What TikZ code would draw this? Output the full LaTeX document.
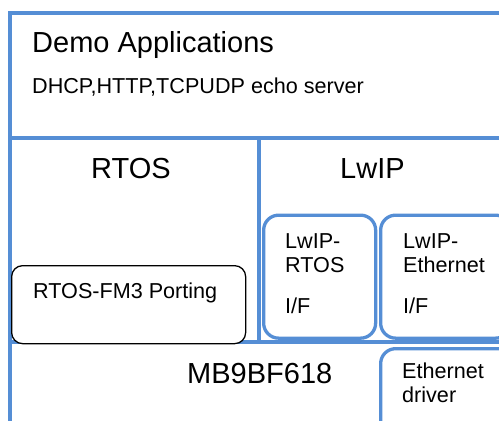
\documentclass[tikz,border=0pt]{standalone}
\usepackage{fontspec}
\setmainfont{Liberation Sans}
\definecolor{lineblue}{RGB}{85,142,213}
\begin{document}
\begin{tikzpicture}[x=1pt,y=-1pt,
  wall/.style={draw=lineblue,line width=3.3pt},
  ifbox/.style={draw=lineblue,line width=3.3pt,rounded corners=15pt,fill=white,anchor=north west,inner sep=0pt},
  portbox/.style={draw=black,line width=1.3pt,rounded corners=11pt,fill=white,anchor=north west,inner sep=0pt},
  big/.style={anchor=base west,inner sep=0pt,font=\fontsize{29}{32}\selectfont},
  small/.style={anchor=base west,inner sep=0pt,font=\fontsize{21.6}{24}\selectfont}]
\useasboundingbox (0,0) rectangle (499,421);
\clip (0,0) rectangle (499,421);
% layer walls
\coordinate (bl) at (10,440);
\coordinate (tl) at (10,13);
\coordinate (tr) at (520,13);
\coordinate (m1l) at (10,138);
\coordinate (m1r) at (520,138);
\coordinate (dvt) at (259,138);
\coordinate (dvb) at (259,342);
\coordinate (m2l) at (10,342);
\coordinate (m2r) at (520,342);
\draw[wall] (bl) -- (tl) -- (tr);
\draw[wall] (m1l) -- (m1r);
\draw[wall] (dvt) -- (dvb);
\draw[wall] (m2l) -- (m2r);
% boxes
\node[portbox,minimum width=234pt,minimum height=78pt] (port) at (11,265) {};
\node[ifbox,minimum width=112pt,minimum height=123pt] (lwiprtos) at (262,213.5) {};
\node[ifbox,minimum width=130pt,minimum height=123pt] (lwipeth) at (379,213.5) {};
\node[ifbox,minimum width=140pt,minimum height=100pt] (ethdrv) at (379,347) {};
% texts
\node[big] (demo) at (32,52) {Demo Applications};
\node[small] (dhcp) at (32,93) {DHCP,HTTP,TCPUDP echo server};
\node[big] (rtos) at (91,178) {RTOS};
\node[big] (lwip) at (340,178) {LwIP};
\node[small] (porttxt) at (33,298) {RTOS-FM3 Porting};
\node[small] (lr1) at (285,248) {LwIP-};
\node[small] (lr2) at (285,272) {RTOS};
\node[small] (lr3) at (285,313) {I/F};
\node[small] (le1) at (403,248) {LwIP-};
\node[small] (le2) at (403,272) {Ethernet};
\node[small] (le3) at (403,313) {I/F};
\node[big] (mb) at (187,383) {MB9BF618};
\node[small] (ed1) at (402,378) {Ethernet};
\node[small] (ed2) at (402,402) {driver};
\end{tikzpicture}
\end{document}
